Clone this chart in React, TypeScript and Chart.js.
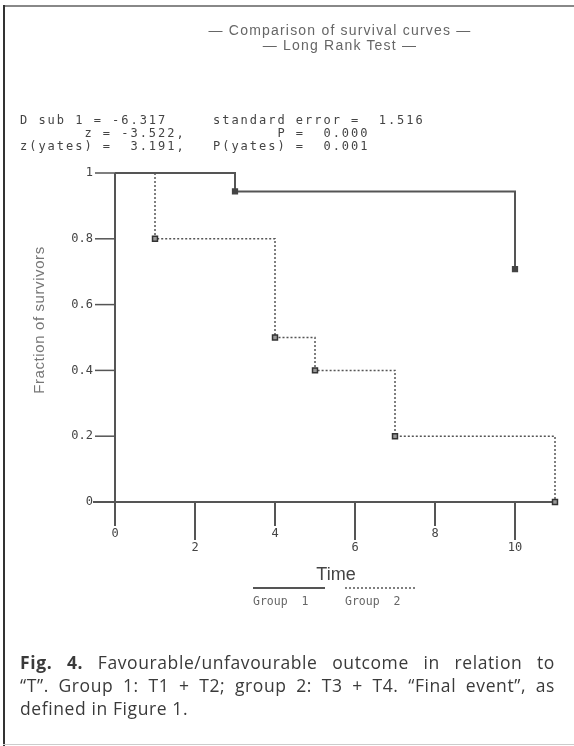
import React, { useEffect, useRef } from "react";
import { Chart, registerables } from "chart.js";

Chart.register(...registerables);

// ---- data ----
const group1Time = [0, 3, 10];
const group1Surv = [1, 0.944, 0.708];
const group1Markers = [0, 3, 3];
const group2Time = [0, 1, 4, 5, 7, 11];
const group2Surv = [1, 0.8, 0.5, 0.4, 0.2, 0];
const group2Markers = [0, 3.5, 3.5, 3.5, 3.5, 3.5];
const xTicks = [0, 2, 4, 6, 8, 10];
const yTicks = [0, 0.2, 0.4, 0.6, 0.8, 1];
const yTickLabels = ["0", "0.2", "0.4", "0.6", "0.8", "1"];
const seriesNames = ["Group 1", "Group 2"];
const titleLines = ["— Comparison of survival curves —", "— Long Rank Test —"];
const statsLeft = ["D sub 1 = -6.317", "       z = -3.522,", "z(yates) =  3.191,"];
const statsRight = ["standard error =  1.516", "       P =  0.000", "P(yates) =  0.001"];
const yTitle = "Fraction of survivors";
const xTitle = "Time";

const W = 574;
const H = 746;

const axesPlugin = {
  id: "kmAxes",
  beforeDatasetsDraw(chart: any) {
    const { ctx } = chart;
    const xs = chart.scales.x;
    const ys = chart.scales.y;
    const x0 = xs.getPixelForValue(0);
    const y0 = ys.getPixelForValue(0);
    const y1 = ys.getPixelForValue(1);
    const xEnd = xs.getPixelForValue(11);
    ctx.save();
    ctx.strokeStyle = "#555";
    ctx.lineWidth = 2;
    ctx.beginPath();
    ctx.moveTo(x0, y1);
    ctx.lineTo(x0, y0 + 4);
    ctx.moveTo(x0 - 22, y0);
    ctx.lineTo(xEnd + 2, y0);
    ctx.stroke();
    // y ticks
    ctx.lineWidth = 1.5;
    ctx.font = "12px 'DejaVu Sans Mono'";
    ctx.fillStyle = "#444";
    ctx.textAlign = "right";
    ctx.textBaseline = "middle";
    yTicks.forEach((v, i) => {
      const py = ys.getPixelForValue(v);
      ctx.beginPath();
      ctx.moveTo(x0 - 20, py);
      ctx.lineTo(x0, py);
      ctx.stroke();
      ctx.fillText(yTickLabels[i], x0 - 22, py);
    });
    // x ticks (staggered)
    ctx.textAlign = "center";
    ctx.lineWidth = 2;
    xTicks.forEach((v, i) => {
      const px = xs.getPixelForValue(v);
      const lower = i % 2 === 1;
      const len = lower ? 38 : 24;
      ctx.beginPath();
      ctx.moveTo(px, y0);
      ctx.lineTo(px, y0 + len);
      ctx.stroke();
      ctx.fillText(String(v), px, y0 + len + 8);
    });
    // y title
    ctx.save();
    ctx.translate(40, 320);
    ctx.rotate(-Math.PI / 2);
    ctx.font = "15px 'Liberation Sans'";
    (ctx as any).letterSpacing = "0.6px";
    ctx.fillStyle = "#777";
    ctx.textAlign = "center";
    ctx.fillText(yTitle, 0, 0);
    ctx.restore();
    // x title
    ctx.font = "18px 'Liberation Sans'";
    ctx.fillStyle = "#444";
    ctx.textAlign = "center";
    ctx.fillText(xTitle, 336, 575);
    // legend
    const ds = chart.data.datasets;
    const legendX = [253, 345];
    ctx.font = "11.5px 'DejaVu Sans Mono'";
    ctx.textAlign = "left";
    seriesNames.forEach((name, i) => {
      ctx.save();
      ctx.strokeStyle = ds[i].borderColor;
      ctx.lineWidth = i === 0 ? 2 : 1.5;
      ctx.setLineDash(ds[i].borderDash || []);
      ctx.beginPath();
      ctx.moveTo(legendX[i], 588);
      ctx.lineTo(legendX[i] + 72, 588);
      ctx.stroke();
      ctx.restore();
      ctx.fillStyle = "#666";
      ctx.fillText(name.replace(" ", "  "), legendX[i], 602);
    });
    ctx.restore();
  },
};

export default function App() {
  const ref = useRef<HTMLCanvasElement>(null);
  useEffect(() => {
    const canvas = ref.current;
    if (!canvas) return;
    const chart = new Chart(canvas, {
      type: "line",
      data: {
        datasets: [
          {
            label: seriesNames[0],
            data: group1Time.map((t, i) => ({ x: t, y: group1Surv[i] })),
            stepped: true,
            borderColor: "#555",
            borderWidth: 2,
            pointRadius: group1Markers,
            pointStyle: "rect",
            pointBackgroundColor: "#444",
            pointBorderColor: "#444",
            fill: false,
            clip: false,
          } as any,
          {
            label: seriesNames[1],
            data: group2Time.map((t, i) => ({ x: t, y: group2Surv[i] })),
            stepped: true,
            borderColor: "#555",
            borderWidth: 1.5,
            borderDash: [2, 2],
            pointRadius: group2Markers,
            pointStyle: "rect",
            pointBackgroundColor: "#999",
            pointBorderColor: "#333",
            pointBorderWidth: 1.5,
            fill: false,
            clip: false,
          } as any,
        ],
      },
      options: {
        responsive: false,
        animation: false,
        events: [],
        layout: { padding: { left: 115, right: W - 555, top: 173, bottom: H - 502 } },
        plugins: { legend: { display: false }, tooltip: { enabled: false } },
        scales: {
          x: { type: "linear", min: 0, max: 11, display: false },
          y: { type: "linear", min: 0, max: 1, display: false },
        },
      },
      plugins: [axesPlugin],
    });
    return () => chart.destroy();
  }, []);

  const mono: React.CSSProperties = {
    position: "absolute",
    fontFamily: "'DejaVu Sans Mono', monospace",
    fontSize: 12,
    letterSpacing: "1.98px",
    color: "#444",
    whiteSpace: "pre",
    lineHeight: "13px",
  };
  const captionLine: React.CSSProperties = {
    textAlign: "justify",
    textAlignLast: "justify" as any,
    height: 23,
    whiteSpace: "nowrap",
  };

  return (
    <div
      style={{
        position: "fixed",
        left: 0,
        top: 0,
        width: W,
        height: H,
        background: "#fff",
        overflow: "hidden",
      }}
    >
      <canvas ref={ref} width={W} height={H} style={{ position: "absolute", left: 0, top: 0, width: W, height: H }} />
      <div style={{ position: "absolute", left: 3, top: 5, width: W - 3, height: 2, background: "#888" }} />
      <div style={{ position: "absolute", left: 3, top: 5, width: 2, height: H - 5, background: "#333" }} />
      <div style={{ position: "absolute", left: 3, top: H - 2, width: W - 3, height: 1, background: "#ccc" }} />
      <div
        style={{
          position: "absolute",
          left: 140,
          width: 400,
          top: 23,
          textAlign: "center",
          fontFamily: "'Liberation Sans', sans-serif",
          fontSize: 14,
          letterSpacing: "1.2px",
          lineHeight: "15px",
          color: "#666",
        }}
      >
        <div>{titleLines[0]}</div>
        <div>{titleLines[1]}</div>
      </div>
      <div style={{ ...mono, left: 20, top: 114 }}>{statsLeft.join("\n")}</div>
      <div style={{ ...mono, left: 213, top: 114 }}>{statsRight.join("\n")}</div>
      <div
        style={{
          position: "absolute",
          left: 20,
          top: 651,
          width: 535,
          fontFamily: "'Open Sans', sans-serif",
          fontSize: 17.5,
          letterSpacing: "0.6px",
          lineHeight: "23px",
          color: "#3a3a3a",
        }}
      >
        <div style={captionLine}>
          <b>Fig. 4.</b> Favourable/unfavourable outcome in relation to
        </div>
        <div style={captionLine}>“T”. Group 1: T1 + T2; group 2: T3 + T4. “Final event”, as</div>
        <div>defined in Figure 1.</div>
      </div>
    </div>
  );
}
